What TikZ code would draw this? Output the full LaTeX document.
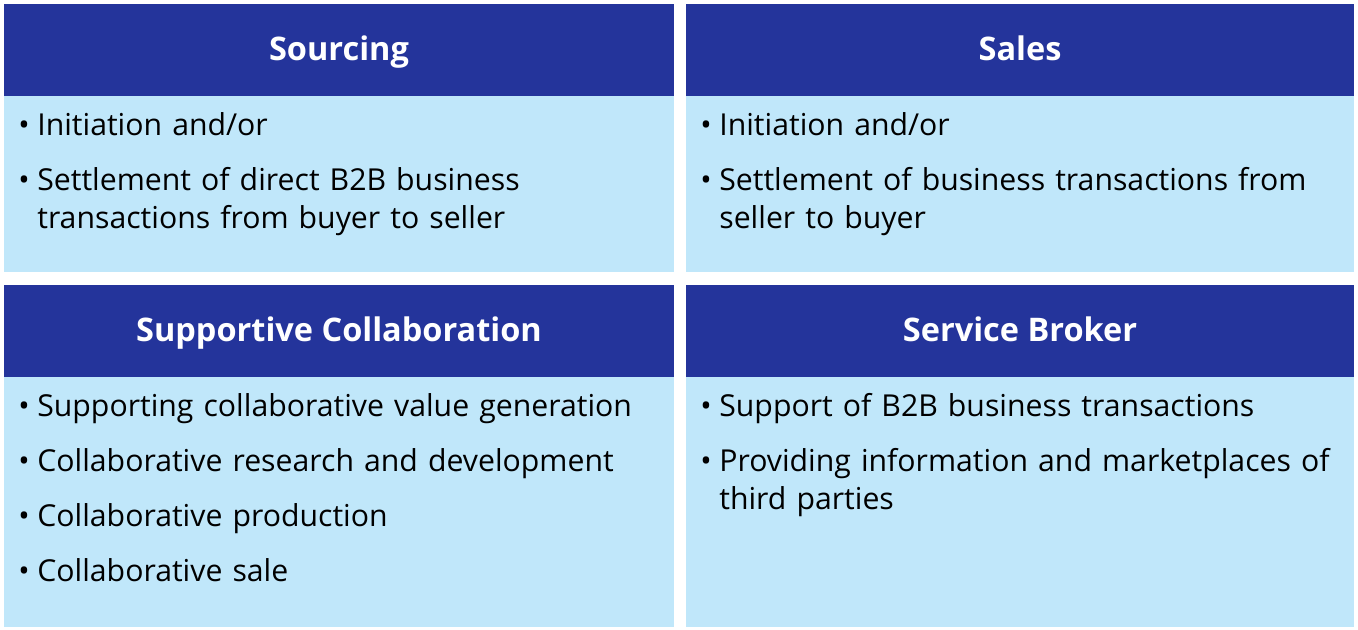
\documentclass[tikz,border=0pt]{standalone}
\usepackage{fontspec}
\setmainfont{Open Sans}
\usetikzlibrary{positioning}
\definecolor{headblue}{RGB}{36,52,155}
\definecolor{bodyblue}{RGB}{192,231,250}
\newcommand{\bul}{\makebox[0.38cm][l]{\textbullet}}
\begin{document}
\begin{tikzpicture}[x=0.02cm,y=-0.02cm]
\tikzstyle{head}=[rectangle,text=white,text height=0.45cm,text depth=0.1cm,font=\fontsize{18.5}{22}\selectfont\bfseries]
\tikzstyle{item}=[anchor=north west,inner sep=0pt,text width=12.9cm,align=left,font=\fontsize{17.2}{21.5}\selectfont]
\useasboundingbox (0,0) rectangle (1358,629);
% panels
\fill[bodyblue] (4,96) rectangle (674,272);
\fill[bodyblue] (686,96) rectangle (1354,272);
\fill[bodyblue] (4,377) rectangle (674,627);
\fill[bodyblue] (686,377) rectangle (1354,627);
\fill[headblue] (4,4) rectangle (674,96);
\fill[headblue] (686,4) rectangle (1354,96);
\fill[headblue] (4,285) rectangle (674,377);
\fill[headblue] (686,285) rectangle (1354,377);
\node [head] (hsrc) at (339,52) {Sourcing};
\node [head] (hsal) at (1020,52) {Sales};
\node [head] (hcol) at (339,333) {Supportive Collaboration};
\node [head] (hbrk) at (1020,333) {Service Broker};
% bullets
\node [item] (s1) at (18,112) {\bul Initiation and/or};
\node [item] (s2) at (18,167) {\bul Settlement of direct B2B business\\\hspace*{0.38cm}transactions from buyer to seller};
\node [item] (a1) at (700,112) {\bul Initiation and/or};
\node [item] (a2) at (700,167) {\bul Settlement of business transactions from\\\hspace*{0.38cm}seller to buyer};
\node [item] (c1) at (18,393) {\bul Supporting collaborative value generation};
\node [item] (c2) at (18,448) {\bul Collaborative research and development};
\node [item] (c3) at (18,503) {\bul Collaborative production};
\node [item] (c4) at (18,558) {\bul Collaborative sale};
\node [item] (b1) at (700,393) {\bul Support of B2B business transactions};
\node [item] (b2) at (700,448) {\bul Providing information and marketplaces of\\\hspace*{0.38cm}third parties};
\end{tikzpicture}
\end{document}
